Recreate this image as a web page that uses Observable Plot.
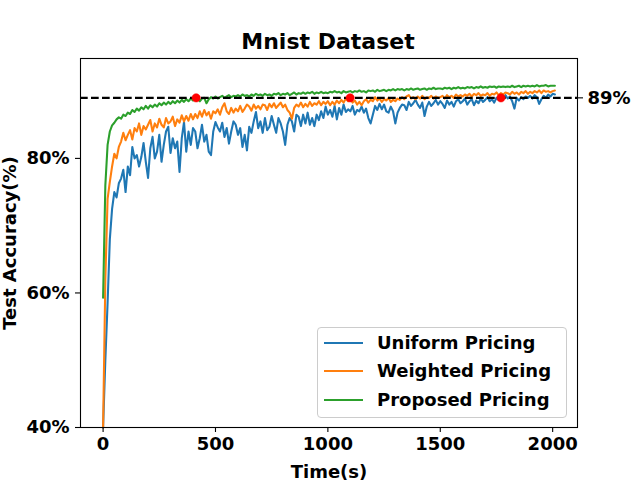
<!DOCTYPE html>
<html>
<head>
<meta charset="utf-8">
<script src="https://cdn.jsdelivr.net/npm/d3@7"></script>
<script src="https://cdn.jsdelivr.net/npm/@observablehq/plot@0.6"></script>
<style>
  body { margin: 0; overflow: hidden; background: white; }
  #wrap { position: relative; width: 640px; height: 480px; font-family: "DejaVu Sans", sans-serif; }
  #title { height: 50px; box-sizing: border-box; width: 640px; padding-left: 16px; padding-top: 29px;
           line-height: 26px; font-size: 22px; font-weight: bold; text-align: center; }
  #legend { position: absolute; left: 317px; top: 327px; width: 250px; height: 91px; box-sizing: border-box;
            border: 1px solid #cccccc; border-radius: 4px; background: rgba(255,255,255,0.8); padding-top: 1px; }
  .row { display: flex; align-items: center; height: 28.3px; }
  .sw { width: 39px; height: 2px; margin-left: 6px; margin-right: 14px; }
  .lab { font-size: 18px; font-weight: bold; line-height: 20px; }
</style>
</head>
<body>
<div id="wrap">
  <div id="title">Mnist Dataset</div>
  <div id="chart"></div>
  <div id="legend"></div>
</div>
<script>
const names = ["Uniform Pricing", "Weighted Pricing", "Proposed Pricing"];
const colors = ["#1f77b4", "#ff7f0e", "#2ca02c"];

const time = [
  0,10,20,30,40,50,60,70,80,90,
  100,110,120,130,140,150,160,170,180,190,
  200,210,220,230,240,250,260,270,280,290,
  300,310,320,330,340,350,360,370,380,390,
  400,410,420,430,440,450,460,470,480,490,
  500,510,520,530,540,550,560,570,580,590,
  600,610,620,630,640,650,660,670,680,690,
  700,710,720,730,740,750,760,770,780,790,
  800,810,820,830,840,850,860,870,880,890,
  900,910,920,930,940,950,960,970,980,990,
  1000,1010,1020,1030,1040,1050,1060,1070,1080,1090,
  1100,1110,1120,1130,1140,1150,1160,1170,1180,1190,
  1200,1210,1220,1230,1240,1250,1260,1270,1280,1290,
  1300,1310,1320,1330,1340,1350,1360,1370,1380,1390,
  1400,1410,1420,1430,1440,1450,1460,1470,1480,1490,
  1500,1510,1520,1530,1540,1550,1560,1570,1580,1590,
  1600,1610,1620,1630,1640,1650,1660,1670,1680,1690,
  1700,1710,1720,1730,1740,1750,1760,1770,1780,1790,
  1800,1810,1820,1830,1840,1850,1860,1870,1880,1890,
  1900,1910,1920,1930,1940,1950,1960,1970,1980,1990,
  2000,2010];

const uniform = [
  40,50,58.5,68,72.5,75,74.2,76.3,77.0,78.3,
  75.0,78.8,77.5,81.7,80.0,80.5,78.8,80.2,82.3,79.5,
  77.1,81.5,83.2,80.0,81.0,83.5,79.5,82.0,84.0,84.7,
  80.8,83.0,81.5,82.5,78.0,83.0,85.4,81.0,84.0,82.0,
  84.5,84.0,81.5,83.0,85.0,82.5,83.5,81.0,80.5,84.0,
  85.4,84.6,84.0,85.3,83.2,84.5,82.2,84.0,85.5,85.0,
  83.5,84.5,81.7,83.5,81.2,84.7,83.8,85.5,86.9,84.5,
  85.5,83.8,86.0,84.2,84.7,86.3,85.0,83.8,86.0,85.2,
  84.0,82.0,85.0,86.0,85.5,84.0,86.5,86.2,84.8,86.5,
  85.2,86.8,85.0,86.0,84.8,86.5,85.7,87.0,86.0,87.7,
  86.5,87.2,86.2,87.8,85.8,87.5,86.5,88.0,86.9,87.3,
  87.0,87.8,86.5,87.2,87.0,87.7,86.8,87.4,86.0,85.2,
  86.5,87.8,87.2,88.1,87.3,88.0,87.0,86.8,87.7,87.0,
  85.2,86.8,87.5,88.0,87.9,87.2,88.4,87.8,88.2,88.7,
  88.0,87.5,88.3,86.3,87.7,88.4,87.8,88.2,88.7,88.0,
  88.5,88.1,87.5,88.6,88.0,88.4,87.7,88.5,88.8,88.2,
  88.5,88.9,88.0,88.5,88.8,87.9,88.6,88.2,88.9,88.4,
  88.7,89.1,88.5,88.8,88.3,89.0,88.7,89.2,88.8,89.4,
  88.9,89.2,88.5,87.4,89.0,88.6,89.1,88.8,89.2,89.0,
  89.3,88.9,89.4,89.1,88.1,88.8,89.3,89.0,89.5,89.2,
  89.6,89.5];

const weighted = [
  40,62,74,76.5,78.8,80.7,80.0,81.7,82.5,83.8,
  82.7,83.5,84.2,82.8,84.5,84.0,85.2,83.5,84.8,84.3,
  85.0,85.7,84.0,85.2,84.6,85.9,85.0,84.6,86.0,85.2,
  85.5,86.2,84.8,85.8,85.3,86.4,85.5,86.3,85.6,86.6,
  85.8,86.6,86.0,87.0,86.2,87.2,86.4,86.9,85.9,87.0,
  86.7,87.3,86.5,87.6,88.2,87.0,86.6,87.5,86.8,87.4,
  87.0,87.8,86.9,87.4,88.0,87.7,87.1,88.0,87.4,87.8,
  87.3,88.0,87.9,87.2,88.1,87.6,88.2,87.5,87.9,88.3,
  87.6,88.0,87.2,86.8,85.9,87.5,88.0,87.7,88.3,87.6,
  88.1,87.7,88.4,87.8,88.2,88.0,88.5,87.9,88.4,88.1,
  88.5,87.9,88.4,88.0,88.6,88.2,88.7,88.3,88.9,88.5,
  89.0,88.3,88.6,88.0,88.4,87.9,88.5,88.8,88.3,88.7,
  88.5,89.1,88.6,88.9,88.4,88.8,88.6,89.0,88.4,88.7,
  88.5,88.9,88.7,89.1,88.8,89.2,89.4,88.9,89.1,88.8,
  89.2,88.9,89.3,88.8,89.1,89.0,89.3,88.9,89.2,89.0,
  89.1,89.3,88.9,89.4,89.1,89.3,89.0,89.5,89.2,89.4,
  89.2,89.5,89.3,89.6,89.2,89.6,89.4,89.7,89.3,89.5,
  89.4,89.7,89.3,89.6,89.5,89.8,89.4,89.7,89.5,89.8,
  89.7,89.5,89.9,89.6,89.8,89.5,89.9,89.7,90.0,89.6,
  89.9,89.7,90.0,89.8,90.1,89.7,90.1,89.9,90.0,89.8,
  90.0,90.1];

const proposed = [
  59.3,76.0,82.0,84.0,84.9,85.3,85.8,86.1,85.9,86.5,
  86.3,86.8,86.6,87.2,86.9,87.4,87.1,87.6,87.3,87.8,
  87.4,87.9,87.6,88.0,87.7,88.2,87.9,88.3,88.0,88.4,
  88.1,88.5,88.2,88.6,88.3,88.7,88.4,88.8,88.5,88.9,
  88.6,88.9,89.1,88.5,88.9,89.0,88.2,88.8,89.1,88.9,
  89.2,88.9,89.1,89.3,89.0,89.2,89.4,89.1,89.3,89.2,
  89.4,89.2,89.5,89.3,89.4,89.2,89.5,89.3,89.6,89.4,
  89.5,89.3,89.6,89.4,89.5,89.3,89.6,89.5,89.7,89.4,
  89.6,89.5,89.7,89.4,89.6,89.8,89.5,89.7,89.6,89.8,
  89.6,89.8,89.7,89.9,89.6,89.8,89.7,89.9,89.7,89.8,
  89.7,89.9,89.8,90.0,89.8,89.9,89.7,90.0,89.8,89.9,
  90.0,89.8,90.0,89.9,90.1,89.9,90.0,89.8,90.1,90.0,
  90.1,89.9,90.2,90.0,90.1,90.2,90.0,90.2,90.1,90.3,
  90.1,90.3,90.2,90.3,90.1,90.3,90.2,90.4,90.2,90.3,
  90.4,90.2,90.3,90.4,90.2,90.4,90.3,90.5,90.3,90.4,
  90.4,90.3,90.5,90.4,90.5,90.3,90.5,90.4,90.6,90.4,
  90.5,90.4,90.6,90.5,90.6,90.4,90.6,90.5,90.7,90.5,
  90.6,90.5,90.7,90.6,90.7,90.5,90.7,90.6,90.7,90.6,
  90.7,90.6,90.8,90.6,90.7,90.8,90.6,90.8,90.7,90.8,
  90.7,90.8,90.7,90.9,90.7,90.8,90.8,90.9,90.7,90.8,
  90.8,90.8];

const markerTimes = [414, 1099, 1770];
const markerValues = [89, 89, 89];
const threshold = [89];
const xTicks = [0, 500, 1000, 1500, 2000];
const yTicks = [40, 60, 80];

const seriesValues = [uniform, weighted, proposed];
const data = names.flatMap((n, i) => time.map((t, j) => ({t, v: seriesValues[i][j], s: n})));
const markers = markerTimes.map((t, i) => ({t, v: markerValues[i]}));

const chart = Plot.plot({
  width: 640,
  height: 430,
  marginTop: 8,
  marginBottom: 53,
  marginLeft: 80,
  marginRight: 63,
  x: {domain: [-100.5, 2110.5]},
  y: {domain: [40, 94.85]},
  color: {domain: names, range: colors},
  style: {fontFamily: "DejaVu Sans", fontSize: "18px", fontWeight: "bold", background: "white", color: "black", overflow: "visible"},
  marks: [
    Plot.line(data, {x: "t", y: "v", z: "s", stroke: "s", strokeWidth: 2.08}),
    Plot.ruleY(threshold, {stroke: "black", strokeWidth: 2.08, strokeDasharray: "7.7,3.3"}),
    Plot.dot(markers, {x: "t", y: "v", r: 4.2, fill: "red", stroke: "red", strokeWidth: 0.5}),
    Plot.frame({stroke: "black", strokeWidth: 1.1}),
    Plot.axisX(xTicks, {tickSize: 5, tickPadding: 5, tickFormat: d => String(d), label: "Time(s)", labelAnchor: "center", labelArrow: "none", strokeWidth: 1.1}),
    Plot.axisY(yTicks, {tickSize: 5, tickPadding: 6, tickFormat: d => d + "%", label: "Test Accuracy(%)", labelAnchor: "center", labelArrow: "none", strokeWidth: 1.1}),
    Plot.axisY(threshold, {anchor: "right", tickSize: 5, tickPadding: 5, tickFormat: d => d + "%", label: null, strokeWidth: 1.1})
  ]
});
document.getElementById("chart").appendChild(chart);

const legend = document.getElementById("legend");
names.forEach((n, i) => {
  const row = document.createElement("div");
  row.className = "row";
  const sw = document.createElement("div");
  sw.className = "sw";
  sw.style.background = colors[i];
  const lab = document.createElement("div");
  lab.className = "lab";
  lab.textContent = n;
  row.appendChild(sw);
  row.appendChild(lab);
  legend.appendChild(row);
});
</script>
</body>
</html>
